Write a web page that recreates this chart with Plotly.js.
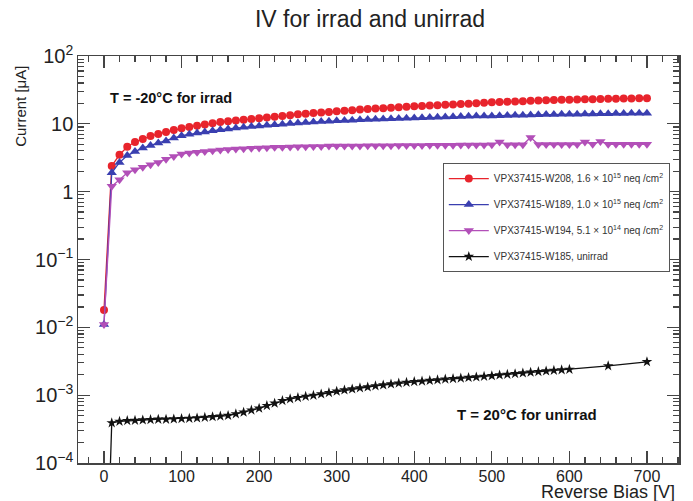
<!DOCTYPE html>
<html>
<head>
<meta charset="utf-8">
<script src="https://cdn.plot.ly/plotly-3.0.1.min.js"></script>
<style>html,body{margin:0;padding:0;background:#fff;}#chart{width:693px;height:501px;}</style>
</head>
<body>
<div id="chart"></div>
<script>
// ---- data ----
const biasIrrad = [0,10,20,30,40,50,60,70,80,90,100,110,120,130,140,150,160,170,180,190,200,210,220,230,240,250,260,270,280,290,300,310,320,330,340,350,360,370,380,390,400,410,420,430,440,450,460,470,480,490,500,510,520,530,540,550,560,570,580,590,600,610,620,630,640,650,660,670,680,690,700];
const currW208 = [0.018,2.4,3.5,4.6,5.4,6.0,6.6,7.1,7.6,8.1,8.6,9.0,9.4,9.8,10.2,10.6,10.9,11.2,11.5,11.8,12.1,12.4,12.7,13.0,13.4,13.8,14.1,14.4,14.7,15.0,15.3,15.6,15.9,16.2,16.5,16.8,17.0,17.3,17.6,17.8,18.1,18.3,18.6,18.8,19.1,19.3,19.6,19.8,20.1,20.5,20.8,21.0,21.2,21.4,21.6,21.8,22.0,22.2,22.4,22.6,22.7,22.9,23.0,23.1,23.3,23.4,23.5,23.6,23.7,23.8,23.9];
const currW189 = [0.011,1.9,2.7,3.4,3.9,4.4,4.8,5.2,5.6,6.2,6.7,7.0,7.3,7.6,7.9,8.2,8.4,8.7,8.9,9.1,9.3,9.5,9.7,9.9,10.1,10.3,10.5,10.6,10.8,10.9,11.1,11.2,11.3,11.5,11.6,11.7,11.8,11.9,12.0,12.1,12.2,12.3,12.4,12.5,12.6,12.7,12.8,12.9,13.0,13.0,13.1,13.2,13.3,13.4,13.4,13.5,13.6,13.7,13.7,13.8,13.9,13.9,14.0,14.0,14.1,14.1,14.2,14.2,14.3,14.3,14.3];
const currW194 = [0.011,1.2,1.5,1.9,2.1,2.3,2.5,2.7,3.0,3.3,3.6,3.7,3.8,3.9,4.0,4.1,4.2,4.25,4.3,4.35,4.4,4.45,4.5,4.5,4.55,4.6,4.6,4.65,4.65,4.7,4.7,4.7,4.72,4.72,4.74,4.74,4.76,4.76,4.78,4.78,4.8,4.8,4.82,4.82,4.84,4.84,4.86,4.86,4.88,4.88,4.9,5.4,4.9,4.9,4.92,6.3,4.95,4.95,4.95,4.95,4.96,4.96,5.4,5.0,5.5,5.0,5.0,5.0,5.0,5.0,5.0];
const biasUnirrad = [0,10,20,30,40,50,60,70,80,90,100,110,120,130,140,150,160,170,180,190,200,210,220,230,240,250,260,270,280,290,300,310,320,330,340,350,360,370,380,390,400,410,420,430,440,450,460,470,480,490,500,510,520,530,540,550,560,570,580,590,600,650,700];
const currW185 = [1e-7,3.9e-4,4.1e-4,4.2e-4,4.25e-4,4.3e-4,4.35e-4,4.4e-4,4.4e-4,4.45e-4,4.5e-4,4.55e-4,4.6e-4,4.7e-4,4.8e-4,4.9e-4,5.0e-4,5.3e-4,5.6e-4,6.0e-4,6.4e-4,7.0e-4,7.6e-4,8.3e-4,8.8e-4,9.2e-4,9.6e-4,9.9e-4,1.04e-3,1.09e-3,1.14e-3,1.19e-3,1.23e-3,1.28e-3,1.32e-3,1.37e-3,1.41e-3,1.46e-3,1.50e-3,1.54e-3,1.58e-3,1.61e-3,1.64e-3,1.68e-3,1.72e-3,1.75e-3,1.78e-3,1.82e-3,1.85e-3,1.89e-3,1.93e-3,1.98e-3,2.02e-3,2.07e-3,2.12e-3,2.17e-3,2.22e-3,2.27e-3,2.32e-3,2.36e-3,2.40e-3,2.7e-3,3.1e-3];
const seriesNames = [
  'VPX37415-W208, 1.6 × 10<sup>15</sup> neq /cm<sup>2</sup>',
  'VPX37415-W189, 1.0 × 10<sup>15</sup> neq /cm<sup>2</sup>',
  'VPX37415-W194, 5.1 × 10<sup>14</sup> neq /cm<sup>2</sup>',
  'VPX37415-W185, unirrad'
];
const xTickVals = [0,100,200,300,400,500,600,700];

// ---- traces ----
const mk = (x, y, name, color, symbol, size, group) => ({
  x: x, y: y, name: name, type: 'scatter', mode: 'lines+markers',
  line: {color: color, width: 1.3}, marker: {color: color, symbol: symbol, size: size},
  legendgroup: group, cliponaxis: true
});
const traces = [
  mk(biasIrrad, currW208, seriesNames[0], '#e8242c', 'circle', 8, 'a'),
  mk(biasIrrad, currW189, seriesNames[1], '#3a3fb0', 'triangle-up', 9, 'b'),
  mk(biasIrrad, currW194, seriesNames[2], '#b24fb8', 'triangle-down', 9, 'c'),
  mk(biasUnirrad, currW185, seriesNames[3], '#111111', 'star', 8, 'd')
];

const axisCommon = {
  showline: true, linecolor: '#444', linewidth: 1.5, mirror: 'ticks',
  ticks: 'inside', ticklen: 12, tickwidth: 1.2, tickcolor: '#444',
  showgrid: false, zeroline: false,
  tickfont: {family: 'Liberation Sans, Arial, sans-serif', size: 16, color: '#222'}
};

const layout = {
  width: 693, height: 501,
  margin: {l: 78, r: 14, t: 56, b: 38},
  paper_bgcolor: '#fff', plot_bgcolor: '#fff',
  font: {family: 'Liberation Sans, Arial, sans-serif', color: '#222'},
  title: {text: 'IV for irrad and unirrad', x: 0.534, xanchor: 'center', y: 0.963, yanchor: 'middle',
          font: {size: 23, color: '#222', family: 'Liberation Sans, Arial, sans-serif'}},
  xaxis: Object.assign({}, axisCommon, {
    range: [-33.5, 741.3], tickvals: xTickVals, ticklabelstandoff: -2,
    minor: {ticks: 'inside', ticklen: 6, dtick: 20, tick0: 0, tickcolor: '#444', tickwidth: 1.2}
  }),
  yaxis: Object.assign({}, axisCommon, {
    type: 'log', range: [-4, 2], tickmode: 'linear', tick0: 0, dtick: 1, exponentformat: 'power',
    minor: {ticks: 'inside', ticklen: 6, dtick: 'D1', tickcolor: '#444', tickwidth: 1.2}
  }),
  showlegend: true,
  legend: {
    x: 0.607, y: 0.737, xanchor: 'left', yanchor: 'top',
    bgcolor: '#fff', bordercolor: '#555', borderwidth: 1,
    font: {size: 10, color: '#333', family: 'Liberation Sans, Arial, sans-serif'},
    tracegroupgap: 7, itemwidth: 40
  },
  annotations: [
    {text: 'Current [μA]', xref: 'paper', yref: 'paper', x: -0.097, y: 0.877,
     xanchor: 'center', yanchor: 'middle', textangle: -90, showarrow: false,
     font: {size: 15, color: '#222'}},
    {text: 'Reverse Bias [V]', xref: 'paper', yref: 'paper', x: 0.997, y: -0.071,
     xanchor: 'right', yanchor: 'middle', showarrow: false,
     font: {size: 18, color: '#222'}},
    {text: '<b>T = -20°C for irrad</b>', xref: 'x', yref: 'paper', x: 5, y: 0.897,
     xanchor: 'left', yanchor: 'middle', showarrow: false, font: {size: 14.5, color: '#111'}},
    {text: '<b>T = 20°C for unirrad</b>', xref: 'x', yref: 'paper', x: 452, y: 0.118,
     xanchor: 'left', yanchor: 'middle', showarrow: false, font: {size: 15, color: '#111'}}
  ]
};

Plotly.newPlot('chart', traces, layout, {displayModeBar: false, staticPlot: true});
</script>
</body>
</html>
